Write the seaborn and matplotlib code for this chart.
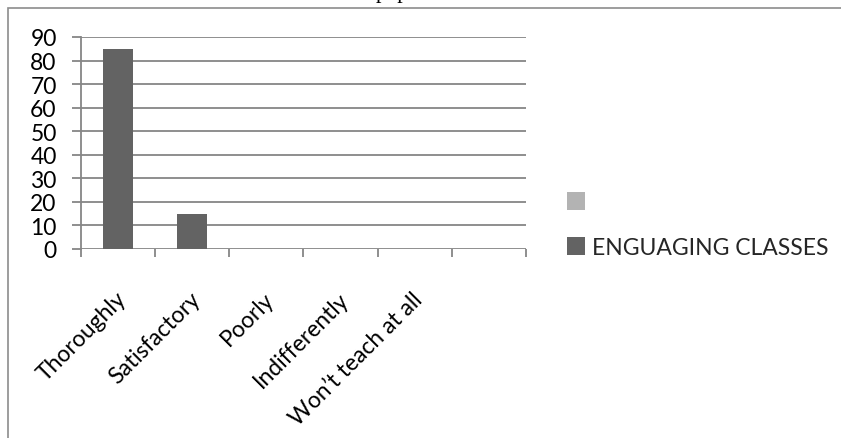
import matplotlib
matplotlib.use("Agg")
import matplotlib.pyplot as plt
from matplotlib.patches import Patch, Rectangle
import matplotlib.transforms as mtransforms
import seaborn as sns
import pandas as pd

categories = ["Thoroughly", "Satisfactory", "Poorly", "Indifferently", "Won\u2019t teach at all", ""]
engaging = [85, 15, 0, 0, 0, 0]
series_names = [" ", "ENGUAGING CLASSES"]
series_colors = ["#b3b3b3", "#636363"]
yticks = [0, 10, 20, 30, 40, 50, 60, 70, 80, 90]

W, H = 841, 439
sns.set_theme(style="white")
plt.rcParams["font.family"] = ["Lato", "DejaVu Sans"]
FS = 16.5

fig = plt.figure(figsize=(W / 100, H / 100), dpi=100)
ax = fig.add_axes([81 / W, 1 - 250 / H, (526 - 81) / W, (250 - 38) / H])

df = pd.DataFrame({"category": categories, "value": engaging})
sns.barplot(data=df, x="category", y="value", order=categories, color=series_colors[1],
            width=0.4, linewidth=0, saturation=1, ax=ax)

grid_c = "#868686"
ax.set_ylim(0, 90)
ax.set_xlim(-0.5, len(categories) - 0.5)
ax.set_yticks(yticks)
ax.set_yticklabels([str(v) for v in yticks])
ax.set_xlabel("")
ax.set_ylabel("")
for v in yticks:
    ax.axhline(v, color=grid_c, lw=1.3, zorder=0.5)
for s in ["top", "right", "bottom"]:
    ax.spines[s].set_visible(False)
ax.spines["left"].set_color(grid_c)
ax.spines["left"].set_linewidth(1.3)

ax.tick_params(axis="y", left=True, length=6.5, width=1.3, color=grid_c, pad=11,
               labelsize=FS, labelcolor="black")
ax.set_xticks([i - 0.5 for i in range(len(categories) + 1)], minor=True)
ax.tick_params(axis="x", which="minor", bottom=True, length=6, width=1.3, color=grid_c)
ax.tick_params(axis="x", which="major", bottom=False, length=0, pad=28, labelsize=FS,
               labelcolor="black")
shift = mtransforms.ScaledTranslation(-3 / 100, 0, fig.dpi_scale_trans)
for lbl in ax.get_xticklabels():
    lbl.set_rotation(45)
    lbl.set_ha("right")
    lbl.set_rotation_mode("anchor")
    lbl.set_transform(lbl.get_transform() + shift)

handles = [Patch(facecolor=c, edgecolor="none") for c in series_colors]
fig.legend(handles, series_names, loc="upper left", bbox_to_anchor=(567 / W, 1 - 193 / H),
           frameon=False, fontsize=FS, handlelength=0.78, handleheight=0.78,
           handletextpad=0.3, labelspacing=1.05, borderpad=0, borderaxespad=0)

# chart border (extends past the image on right and bottom)
fig.add_artist(Rectangle((8 / W, -0.1), 1.5, 1 - 9 / H + 0.1, transform=fig.transFigure,
                         fill=False, edgecolor="#8c8c8c", lw=1.2))
# partially visible title above the chart frame
fig.text(376 / W, 1 + 2 / H, "pupil", family=["Liberation Serif", "DejaVu Serif"],
         fontsize=16, va="baseline", ha="left", color="black")

fig.savefig("out.png", dpi=100)
